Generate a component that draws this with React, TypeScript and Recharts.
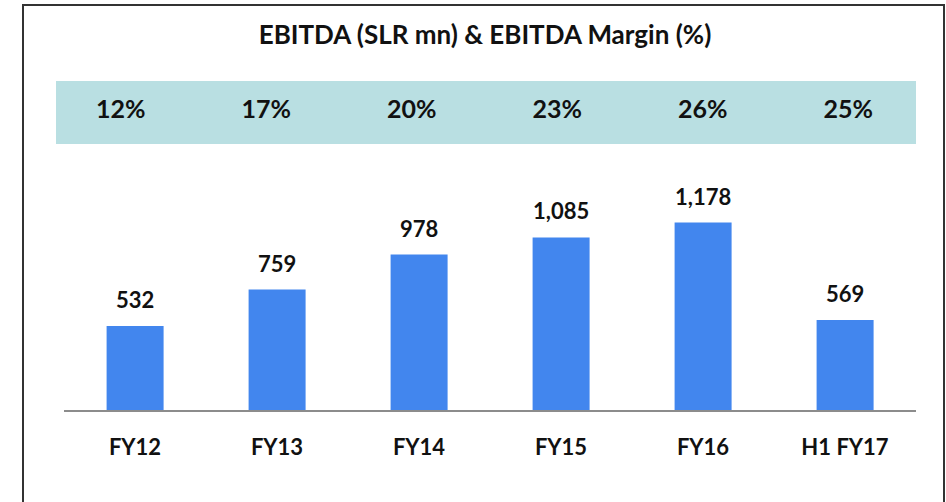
import React from "react";
import { BarChart, Bar, XAxis, YAxis, LabelList } from "recharts";

const categories = ["FY12", "FY13", "FY14", "FY15", "FY16", "H1 FY17"];
const ebitda = [532, 759, 978, 1085, 1178, 569];
const margins = ["12%", "17%", "20%", "23%", "26%", "25%"];
const title = "EBITDA (SLR mn) & EBITDA Margin (%)";

const data = categories.map((c, i) => ({ name: c, ebitda: ebitda[i], margin: margins[i] }));

const FONT = "Lato, 'Open Sans', sans-serif";

const MarginTick = (props: any) => {
  const { x, payload } = props;
  return (
    <text x={x} y={118} textAnchor="middle" fontFamily={FONT} fontWeight={700} fontSize={25} fill="#111">
      {payload.value}
    </text>
  );
};

const CatTick = (props: any) => {
  const { x, payload } = props;
  return (
    <text x={x} y={455} textAnchor="middle" fontFamily={FONT} fontWeight={700} fontSize={22} fill="#111">
      {payload.value}
    </text>
  );
};

export default function App() {
  return (
    <div style={{ position: "absolute", left: 0, top: 0, width: 946, height: 502, overflow: "hidden", background: "#fff" }}>
      <div
        style={{
          position: "absolute",
          left: 22,
          top: 4,
          width: 919,
          height: 540,
          border: "2px solid #333",
        }}
      />
      <div
        style={{
          position: "absolute",
          left: 56,
          top: 81,
          width: 860,
          height: 63,
          background: "#B9DFE2",
        }}
      />
      <div
        style={{
          position: "absolute",
          left: 0,
          width: 946,
          top: 16,
          textAlign: "center",
          fontFamily: FONT,
          fontWeight: 700,
          fontSize: 26,
          lineHeight: "36px",
          color: "#111",
          paddingLeft: 24,
          boxSizing: "border-box",
        }}
      >
        {title}
      </div>
      <div style={{ position: "absolute", left: 0, top: 0 }}>
        <BarChart
          width={946}
          height={502}
          data={data}
          margin={{ top: 157, right: 30, bottom: 41, left: 64 }}
          barCategoryGap="30%"
        >
          <XAxis
            dataKey="name"
            axisLine={{ stroke: "#8c8c8c", strokeWidth: 2 }}
            tickLine={false}
            tick={<CatTick />}
            height={50}
            interval={0}
          />
          <XAxis
            xAxisId="top"
            dataKey="margin"
            orientation="top"
            axisLine={false}
            tickLine={false}
            tick={<MarginTick />}
            height={30}
            interval={0}
            padding={{ left: -16, right: -5 }}
          />
          <YAxis hide domain={[0, 1400]} width={0} />
          <Bar dataKey="ebitda" fill="#4286EE" isAnimationActive={false}>
            <LabelList
              dataKey="ebitda"
              position="top"
              offset={18}
              formatter={(v: any) => Number(v).toLocaleString("en-US")}
              style={{ fontFamily: FONT, fontWeight: 700, fontSize: 22, fill: "#111" }}
            />
          </Bar>
        </BarChart>
      </div>
    </div>
  );
}
